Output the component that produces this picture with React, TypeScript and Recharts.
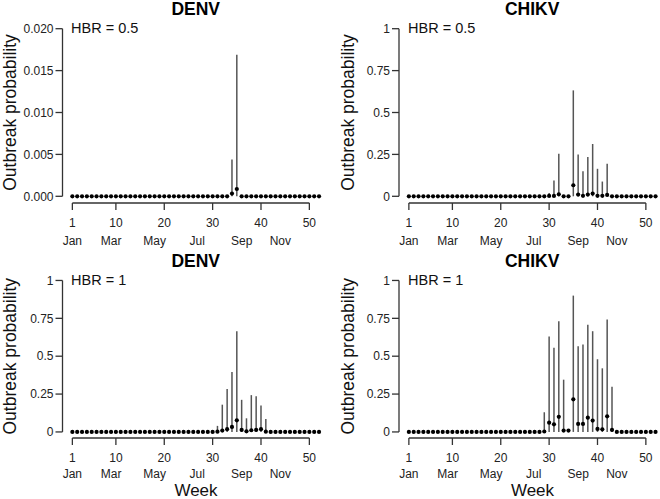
import { ComposedChart, Line, ErrorBar, XAxis, YAxis, ReferenceLine } from 'recharts'

// weeks of the year
const weeks = Array.from({ length: 52 }, (_, i) => i + 1)

const weekTicks = [1, 10, 20, 30, 40, 50]
const monthWeeks = [1, 9, 18, 26.8, 36, 44]
const monthLabels = ['Jan', 'Mar', 'May', 'Jul', 'Sep', 'Nov']

const denvTicks = [0, 0.005, 0.01, 0.015, 0.02]
const probTicks = [0, 0.25, 0.5, 0.75, 1]

// DENV, HBR = 0.5
const denvLowMean = [
  0, 0, 0, 0, 0, 0, 0, 0, 0, 0, 0, 0, 0,
  0, 0, 0, 0, 0, 0, 0, 0, 0, 0, 0, 0, 0,
  0, 0, 0, 0, 0, 0, 0, 0.00032, 0.00087, 0, 0, 0, 0,
  0, 0, 0, 0, 0, 0, 0, 0, 0, 0, 0, 0, 0,
]
const denvLowUpper = [
  0, 0, 0, 0, 0, 0, 0, 0, 0, 0, 0, 0, 0,
  0, 0, 0, 0, 0, 0, 0, 0, 0, 0, 0, 0, 0,
  0, 0, 0, 0, 0, 0, 0, 0.0044, 0.0169, 0, 0, 0, 0,
  0, 0, 0, 0, 0, 0, 0, 0, 0, 0, 0, 0, 0,
]

// CHIKV, HBR = 0.5
const chikvLowMean = [
  0, 0, 0, 0, 0, 0, 0, 0, 0, 0, 0, 0, 0,
  0, 0, 0, 0, 0, 0, 0, 0, 0, 0, 0, 0, 0,
  0, 0, 0, 0.002, 0.002, 0.012, 0, 0, 0.066, 0.01, 0.003, 0.01, 0.016,
  0.003, 0.003, 0.008, 0, 0, 0, 0, 0, 0, 0, 0, 0, 0,
]
const chikvLowUpper = [
  0, 0, 0, 0, 0, 0, 0, 0, 0, 0, 0, 0, 0,
  0, 0, 0, 0, 0, 0, 0, 0, 0, 0, 0, 0, 0,
  0, 0, 0, 0.02, 0.094, 0.254, 0, 0, 0.632, 0.25, 0.15, 0.234, 0.312,
  0.164, 0.088, 0.194, 0, 0, 0, 0, 0, 0, 0, 0, 0, 0,
]

// DENV, HBR = 1
const denvHighMean = [
  0, 0, 0, 0, 0, 0, 0, 0, 0, 0, 0, 0, 0,
  0, 0, 0, 0, 0, 0, 0, 0, 0, 0, 0, 0, 0,
  0, 0, 0, 0, 0.002, 0.009, 0.018, 0.033, 0.077, 0.013, 0.004, 0.011, 0.013,
  0.018, 0.002, 0, 0, 0, 0, 0, 0, 0, 0, 0, 0, 0,
]
const denvHighUpper = [
  0, 0, 0, 0, 0, 0, 0, 0, 0, 0, 0, 0, 0,
  0, 0, 0, 0, 0, 0, 0, 0, 0, 0, 0, 0, 0,
  0, 0, 0, 0, 0.04, 0.18, 0.283, 0.395, 0.664, 0.212, 0.09, 0.243, 0.236,
  0.174, 0.086, 0, 0, 0, 0, 0, 0, 0, 0, 0, 0, 0,
]

// CHIKV, HBR = 1
const chikvHighMean = [
  0, 0, 0, 0, 0, 0, 0, 0, 0, 0, 0, 0, 0,
  0, 0, 0, 0, 0, 0, 0, 0, 0, 0, 0, 0, 0,
  0, 0, 0.003, 0.061, 0.05, 0.1, 0.009, 0.009, 0.215, 0.053, 0.053, 0.094, 0.075,
  0.02, 0.017, 0.103, 0.013, 0, 0, 0, 0, 0, 0, 0, 0, 0,
]
const chikvHighUpper = [
  0, 0, 0, 0, 0, 0, 0, 0, 0, 0, 0, 0, 0,
  0, 0, 0, 0, 0, 0, 0, 0, 0, 0, 0, 0, 0,
  0, 0, 0.13, 0.63, 0.555, 0.73, 0.345, 0.009, 0.9, 0.565, 0.578, 0.708, 0.665,
  0.48, 0.42, 0.743, 0.298, 0, 0, 0, 0, 0, 0, 0, 0, 0,
]

const FONT = '"Liberation Sans", Arial, Helvetica, sans-serif'
const AXIS = '#333'
const X_DOMAIN: [number, number] = [-1.04, 54.04]

function buildRows(mean: number[], upper: number[]) {
  return weeks.map((w, i) => ({
    week: w,
    mean: mean[i],
    err: [mean[i], Math.max(upper[i] - mean[i], 0)],
  }))
}

interface PanelProps {
  mean: number[]
  upper: number[]
  left: number
  top: number
  width: number
  height: number
  yWidth: number
  marginTop: number
  monthHeight: number
  monthMargin: number
  yDomain: [number, number]
  yTicks: number[]
  yFormat: (v: number) => string
}

function Panel(p: PanelProps) {
  const rows = buildRows(p.mean, p.upper)
  const yTop = p.yTicks[p.yTicks.length - 1]
  return (
    <div style={{ position: 'absolute', left: p.left, top: p.top }}>
      <ComposedChart
        width={p.width}
        height={p.height}
        data={rows}
        margin={{ top: p.marginTop, right: p.width - p.yWidth - 266.4, bottom: 0, left: 0 }}
      >
        <XAxis
          dataKey="week"
          type="number"
          domain={X_DOMAIN}
          allowDataOverflow
          ticks={weekTicks}
          interval={0}
          axisLine={false}
          tickSize={7}
          tickMargin={8.5}
          height={30}
          tickLine={{ stroke: AXIS, strokeWidth: 1.3 }}
          tick={{ fontSize: 12, fill: '#222', fontFamily: FONT }}
        />
        <XAxis
          xAxisId="month"
          dataKey="week"
          type="number"
          domain={X_DOMAIN}
          allowDataOverflow
          ticks={monthWeeks}
          interval={0}
          axisLine={false}
          tickLine={false}
          tickSize={0}
          tickMargin={p.monthMargin}
          height={p.monthHeight}
          tickFormatter={(v: number) => monthLabels[monthWeeks.indexOf(v)] ?? ''}
          tick={{ fontSize: 12, fill: '#222', fontFamily: FONT }}
        />
        <YAxis
          type="number"
          domain={p.yDomain}
          allowDataOverflow
          ticks={p.yTicks}
          interval={0}
          width={p.yWidth}
          axisLine={false}
          tickSize={7}
          tickMargin={2}
          tickFormatter={p.yFormat}
          tickLine={{ stroke: AXIS, strokeWidth: 1.3 }}
          tick={{ fontSize: 12, fill: '#222', fontFamily: FONT }}
        />
        <ReferenceLine
          segment={[{ x: X_DOMAIN[0], y: 0 }, { x: X_DOMAIN[0], y: yTop }]}
          stroke={AXIS}
          strokeWidth={1.3}
          ifOverflow="visible"
        />
        <ReferenceLine
          segment={[{ x: 1, y: p.yDomain[0] }, { x: 50, y: p.yDomain[0] }]}
          stroke={AXIS}
          strokeWidth={1.3}
          ifOverflow="visible"
        />
        <Line
          dataKey="mean"
          stroke="none"
          isAnimationActive={false}
          dot={{ r: 2.1, fill: '#000', stroke: 'none' }}
          activeDot={false}
        >
          <ErrorBar dataKey="err" width={0} stroke="#555" strokeWidth={1.5} isAnimationActive={false} />
        </Line>
      </ComposedChart>
    </div>
  )
}

const fmtDenv = (v: number) => v.toFixed(3)
const fmtProb = (v: number) => String(v)

export default function App() {
  return (
    <div
      style={{
        position: 'absolute',
        left: 0,
        top: 0,
        width: 660,
        height: 499,
        overflow: 'hidden',
        background: '#fff',
        fontFamily: FONT,
      }}
    >
      <Panel mean={denvLowMean} upper={denvLowUpper} left={0} top={0} width={330} height={250}
        yWidth={62.5} marginTop={22} monthHeight={17} monthMargin={3.5}
        yDomain={[-0.0008, 0.0208]} yTicks={denvTicks} yFormat={fmtDenv} />
      <Panel mean={chikvLowMean} upper={chikvLowUpper} left={324} top={0} width={342} height={250}
        yWidth={75} marginTop={22} monthHeight={17} monthMargin={3.5}
        yDomain={[-0.04, 1.04]} yTicks={probTicks} yFormat={fmtProb} />
      <Panel mean={denvHighMean} upper={denvHighUpper} left={0} top={250} width={330} height={249}
        yWidth={62.5} marginTop={24.4} monthHeight={31} monthMargin={1}
        yDomain={[-0.04, 1.04]} yTicks={probTicks} yFormat={fmtProb} />
      <Panel mean={chikvHighMean} upper={chikvHighUpper} left={324} top={250} width={342} height={249}
        yWidth={75} marginTop={24.4} monthHeight={31} monthMargin={1}
        yDomain={[-0.04, 1.04]} yTicks={probTicks} yFormat={fmtProb} />

      <svg width={660} height={499} style={{ position: 'absolute', left: 0, top: 0, pointerEvents: 'none' }}>
        <g fontFamily={FONT} fill="#000">
          <text x={195.7} y={15} textAnchor="middle" fontSize={17.5} fontWeight="bold">DENV</text>
          <text x={532.2} y={15} textAnchor="middle" fontSize={17.5} fontWeight="bold">CHIKV</text>
          <text x={195.7} y={266.5} textAnchor="middle" fontSize={17.5} fontWeight="bold">DENV</text>
          <text x={532.2} y={266.5} textAnchor="middle" fontSize={17.5} fontWeight="bold">CHIKV</text>

          <text x={71} y={32.7} fontSize={14.5} fill="#111">HBR = 0.5</text>
          <text x={408} y={32.7} fontSize={14.5} fill="#111">HBR = 0.5</text>
          <text x={71} y={285} fontSize={14.5} fill="#111">HBR = 1</text>
          <text x={408} y={285} fontSize={14.5} fill="#111">HBR = 1</text>

          <text transform="translate(15.5,112.5) rotate(-90)" textAnchor="middle" fontSize={17.5} fill="#111">Outbreak probability</text>
          <text transform="translate(354,112.5) rotate(-90)" textAnchor="middle" fontSize={17.5} fill="#111">Outbreak probability</text>
          <text transform="translate(15.5,356.2) rotate(-90)" textAnchor="middle" fontSize={17.5} fill="#111">Outbreak probability</text>
          <text transform="translate(354,356.2) rotate(-90)" textAnchor="middle" fontSize={17.5} fill="#111">Outbreak probability</text>

          <text x={196} y={495.5} textAnchor="middle" fontSize={17} fill="#111">Week</text>
          <text x={532.5} y={495.5} textAnchor="middle" fontSize={17} fill="#111">Week</text>
        </g>
      </svg>
    </div>
  )
}
